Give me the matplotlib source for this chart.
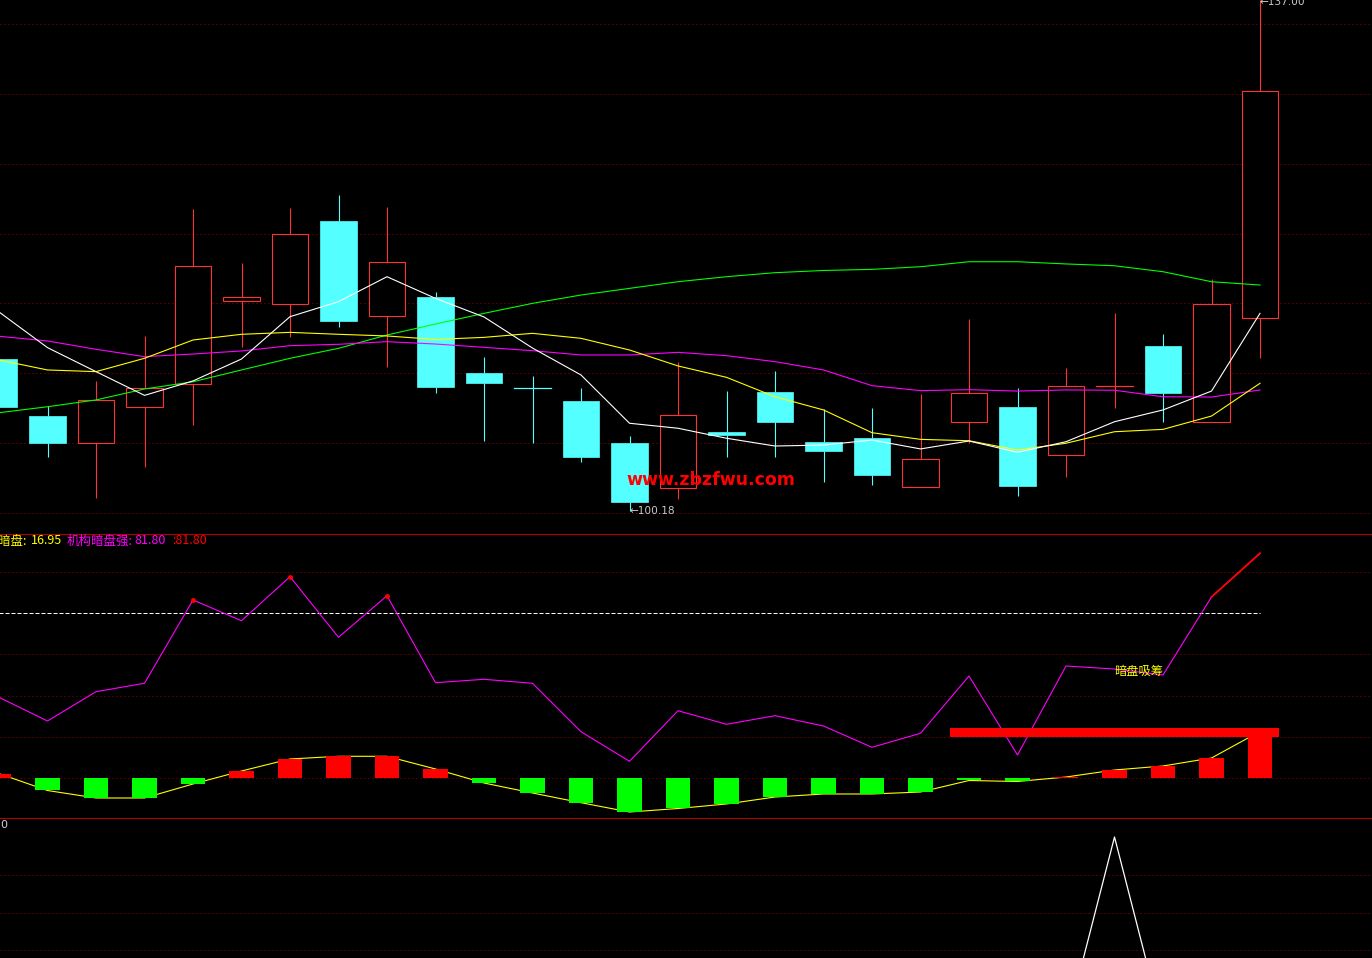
import numpy as np
import matplotlib
matplotlib.use('Agg')
import matplotlib.pyplot as plt
from matplotlib.patches import Rectangle
from matplotlib.lines import Line2D

plt.rcParams['font.family'] = ['Noto Sans CJK SC', 'DejaVu Sans']

# ---------------- data ----------------
opens  = [111.13, 107.02, 105.08, 107.67, 109.33, 115.31, 115.09, 121.07, 114.23, 115.60,
          110.12, 109.04, 108.10, 105.08, 101.83, 105.87, 108.75, 105.15, 105.44, 101.91,
          106.59, 107.67, 104.21, 109.19, 112.07, 106.59, 114.08]
highs  = [111.13, 107.74, 109.55, 112.79, 121.94, 118.05, 122.01, 122.95, 122.08, 115.96,
          111.27, 109.91, 109.04, 105.58, 110.91, 108.83, 110.27, 107.53, 107.60, 108.61,
          114.01, 109.04, 110.48, 114.45, 112.93, 116.90, 137.00]
lows   = [107.67, 104.07, 101.11, 103.35, 106.37, 112.00, 112.72, 113.44, 110.55, 108.68,
          105.22, 105.08, 103.71, 100.18, 101.04, 104.07, 104.07, 102.27, 102.05, 101.91,
          105.08, 101.26, 102.63, 107.60, 106.59, 106.59, 111.20]
closes = [107.67, 105.08, 108.18, 109.04, 117.83, 115.60, 120.14, 113.87, 118.12, 109.11,
          109.40, 109.02, 104.07, 100.83, 107.10, 105.65, 106.59, 104.50, 102.77, 103.92,
          108.68, 101.98, 109.19, 109.19, 108.68, 115.09, 130.44]

ma5  = [114.52, 111.95, 110.22, 108.51, 109.55, 111.13, 114.18, 115.26, 117.06, 115.50,
        114.16, 111.92, 109.98, 106.50, 106.14, 105.42, 104.86, 104.93, 105.29, 104.65,
        105.22, 104.41, 105.17, 106.61, 107.46, 108.82, 114.42]
ma10 = [111.06, 110.34, 110.22, 111.18, 112.50, 112.91, 113.05, 112.91, 112.79, 112.54,
        112.69, 112.98, 112.62, 111.78, 110.63, 109.81, 108.41, 107.46, 105.82, 105.34,
        105.24, 104.57, 105.06, 105.89, 106.06, 107.02, 109.38]
ma20 = [112.77, 112.43, 111.83, 111.30, 111.49, 111.71, 112.09, 112.19, 112.38, 112.21,
        111.97, 111.73, 111.42, 111.42, 111.61, 111.37, 110.94, 110.34, 109.21, 108.85,
        108.92, 108.82, 108.90, 108.88, 108.41, 108.39, 108.90]
ma60 = [107.26, 107.69, 108.18, 108.97, 109.49, 110.34, 111.18, 111.90, 112.86, 113.65,
        114.42, 115.14, 115.74, 116.22, 116.70, 117.06, 117.35, 117.51, 117.59, 117.78,
        118.14, 118.14, 117.98, 117.85, 117.42, 116.70, 116.46]

# indicator panel: 暗盘 (bars + yellow line) and 机构暗盘强 (magenta line)
dark_pool = [1.60, -4.55, -7.28, -7.28, -2.18, 2.55, 6.92, 7.90, 7.90, 3.28,
             -1.82, -5.46, -8.99, -12.38, -11.10, -9.46, -6.92, -5.82, -5.82, -5.10,
             -0.91, -1.27, 0.36, 2.91, 4.37, 7.28, 16.95]
inst_strength = [29.38, 20.75, 31.42, 34.47, 64.80, 57.26, 73.28, 51.22, 66.36, 34.69,
                 35.93, 34.47, 16.85, 6.08, 24.50, 19.55, 22.68, 18.93, 11.18, 16.27,
                 37.13, 8.37, 40.77, 39.68, 37.50, 65.89, 81.80]
threshold = 60
band_start = 20            # red horizontal band from this bar to the last one
band_range = (15.0, 18.2)
signal_text_bar = 23
signal_text = '暗盘吸筹'

# bottom panel signal
signal = [0] * 23 + [1] + [0] * 3

low_label_bar = 13
high_label_bar = 26

# ---------------- figure ----------------
W, H = 1372, 958
fig = plt.figure(figsize=(W / 100, H / 100), dpi=100, facecolor='black')

n = len(closes)
x = np.arange(n)
XLIM = ((0 + 1) / 48.5, (W + 1) / 48.5)

RED = '#ff3232'
CYAN = '#54ffff'
GRID = '#990000'
SEP = '#b00000'


def add_axes(top_px, bottom_px):
    ax = fig.add_axes([0, (H - bottom_px) / H, 1, (bottom_px - top_px) / H])
    ax.set_facecolor('black')
    for s in ax.spines.values():
        s.set_visible(False)
    ax.set_xticks([])
    ax.set_yticks([])
    ax.set_xlim(*XLIM)
    return ax


def grid(ax, y):
    ax.axhline(y, color=GRID, lw=0.72, linestyle=(0, (1, 3)), zorder=0)


# ---- top: candles ----
ax1 = add_axes(0, 533)
ax1.set_ylim(137.0 - 533 * 0.07206, 137.0)
for k in range(8):
    grid(ax1, 100.03 + 5.034 * k)

bw = 0.75
for i in range(n):
    o, h, l, c = opens[i], highs[i], lows[i], closes[i]
    up = c >= o
    col = RED if up else CYAN
    top, bot = max(o, c), min(o, c)
    ax1.plot([i, i], [top, h], color=col, lw=0.8, zorder=2, solid_capstyle='butt')
    ax1.plot([i, i], [l, bot], color=col, lw=0.8, zorder=2, solid_capstyle='butt')
    if top - bot < 0.1:
        ax1.plot([i - bw / 2, i + bw / 2], [o, o], color=col, lw=0.9, zorder=3)
    elif up:
        ax1.add_patch(Rectangle((i - bw / 2, bot), bw, top - bot, facecolor='black',
                                edgecolor=col, lw=0.8, zorder=3))
    else:
        ax1.add_patch(Rectangle((i - bw / 2, bot), bw, top - bot, facecolor=col,
                                edgecolor=col, lw=0.5, zorder=3))

ax1.plot(x, ma60, color='#00ff00', lw=0.8, zorder=4)
ax1.plot(x, ma20, color='#ff00ff', lw=0.8, zorder=4)
ax1.plot(x, ma10, color='#ffff00', lw=0.8, zorder=4)
ax1.plot(x, ma5, color='#ffffff', lw=0.8, zorder=4)

ax1.annotate('\u2190' + f'{lows[low_label_bar]:.2f}', (low_label_bar, lows[low_label_bar]),
             xytext=(0, 0), textcoords='offset points', color='#c8c8c8',
             fontsize=7.6, ha='left', va='center', family=['DejaVu Sans'], zorder=6)
ax1.annotate('\u2190' + f'{highs[high_label_bar]:.2f}', (high_label_bar, highs[high_label_bar]),
             xytext=(0, -1.5), textcoords='offset points', color='#c8c8c8',
             fontsize=7.6, ha='left', va='center', family=['DejaVu Sans'], zorder=6)
ax1.text(710.5 / W, (533 - 480) / 533, 'www.zbzfwu.com', transform=ax1.transAxes,
         color='#ff0000', fontsize=12.5, fontweight='bold', ha='center', va='center',
         family=['DejaVu Sans'], zorder=7)

# ---- middle: indicator ----
ax2 = add_axes(533, 817)
ax2.set_ylim((778 - 817) / 2.747, (778 - 533) / 2.747)
for v in (0, 15, 30, 45, 75):
    grid(ax2, v)
ax2.plot([0, n - 1], [threshold, threshold], color='white', lw=0.72,
         linestyle=(0, (4, 2)), zorder=1)

ax2.plot(x, dark_pool, color='#ffff00', lw=0.8, zorder=2)
bar_cols = ['#ff0000' if v >= 0 else '#00ff00' for v in dark_pool]
ax2.bar(x, dark_pool, width=0.515, color=bar_cols, zorder=3, linewidth=0)

ax2.plot(x, inst_strength, color='#ff00ff', lw=0.8, zorder=4)
strong = np.array([v if v > threshold else np.nan for v in inst_strength])
ax2.plot(x, strong, color='#ff0000', lw=1.3, zorder=5)
iso = [i for i in range(n) if not np.isnan(strong[i])
       and (i == 0 or np.isnan(strong[i - 1])) and (i == n - 1 or np.isnan(strong[i + 1]))]
ax2.plot(iso, [inst_strength[i] for i in iso], 'o', color='#ff0000', ms=2.5, zorder=5)

ax2.add_patch(Rectangle((band_start - 0.39, band_range[0]), (n - 1) - band_start + 0.78,
                        band_range[1] - band_range[0], facecolor='#ff0000',
                        edgecolor='none', zorder=6))
ax2.text(signal_text_bar, inst_strength[signal_text_bar] - 0.7, signal_text,
         color='#ffff00', fontsize=8.8, ha='left', va='center', zorder=7)

# header readout
hy = 1 - 541 / H
HF = 9.0
fig.text(-2 / W, hy, '暗盘:', color='#ffff00', fontsize=HF, ha='left', va='center')
fig.text(31 / W, hy, f'{dark_pool[-1]:.2f}', color='#ffff00', fontsize=HF,
         ha='left', va='center')
fig.text(67 / W, hy, '机构暗盘强:', color='#ff00ff', fontsize=HF, ha='left', va='center')
fig.text(134 / W, hy, f'{inst_strength[-1]:.2f}', color='#ff00ff', fontsize=HF,
         ha='left', va='center')
fig.text(172 / W, hy, f':{inst_strength[-1]:.2f}', color='#ff0000', fontsize=HF,
         ha='left', va='center')

# ---- bottom panel ----
ax3 = add_axes(817, 958)
ax3.set_ylim((1026 - 958) / 189, (1026 - 817) / 189)
for v in (0.4, 0.6, 0.8):
    grid(ax3, v)
ax3.plot(x, signal, color='white', lw=0.9, zorder=3)
fig.text(0 / W, 1 - 825 / H, f'{signal[-1]}', color='#d0d0d0', fontsize=8,
         ha='left', va='center', family=['DejaVu Sans'])

# separators
for ypx in (533.5, 817.5):
    fig.add_artist(Line2D([0, 1], [1 - ypx / H, 1 - ypx / H], transform=fig.transFigure,
                          color=SEP, lw=0.8))

fig.savefig('out.png', dpi=100, facecolor='black')
